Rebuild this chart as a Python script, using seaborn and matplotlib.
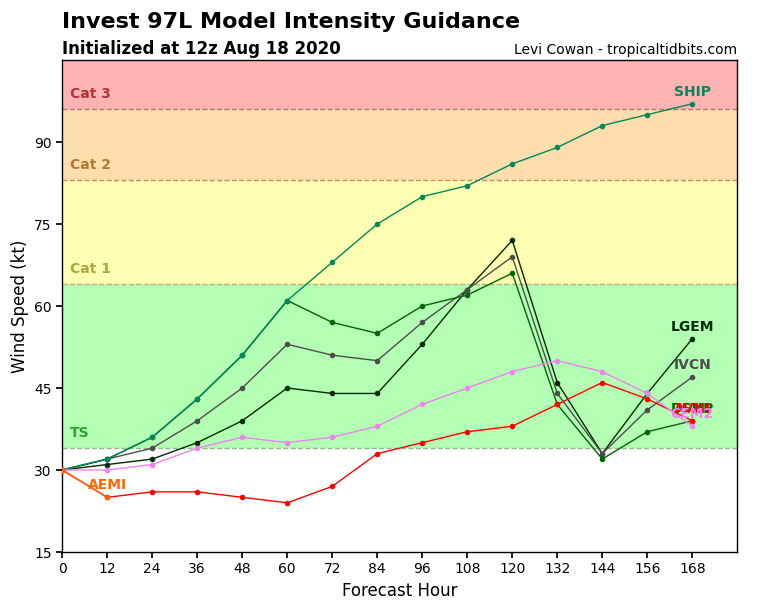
import matplotlib
matplotlib.use("Agg")
import matplotlib.pyplot as plt
import pandas as pd
import seaborn as sns

# ---------------------------------------------------------------------------
# Data
# ---------------------------------------------------------------------------
HOURS = [0, 12, 24, 36, 48, 60, 72, 84, 96, 108, 120, 132, 144, 156, 168]

LGEM = [30, 31, 32, 35, 39, 45, 44, 44, 53, 63, 72, 46, 33, 44, 54]
IVCN = [30, 32, 34, 39, 45, 53, 51, 50, 57, 63, 69, 44, 33, 41, 47]
DSHP = [30, 32, 36, 43, 51, 61, 57, 55, 60, 62, 66, 42, 32, 37, 39]
SHIP = [30, 32, 36, 43, 51, 61, 68, 75, 80, 82, 86, 89, 93, 95, 97]
AVNI = [30, 25, 26, 26, 25, 24, 27, 33, 35, 37, 38, 42, 46, 43, 39]
CEM2 = [30, 30, 31, 34, 36, 35, 36, 38, 42, 45, 48, 50, 48, 44, 38]
AEMI = [30, 25]

MODELS = {
    "LGEM": LGEM,
    "IVCN": IVCN,
    "DSHP": DSHP,
    "SHIP": SHIP,
    "AVNI": AVNI,
    "CEM2": CEM2,
    "AEMI": AEMI,
}

PALETTE = {
    "LGEM": "#002a00",
    "IVCN": "#4d4d4d",
    "DSHP": "#006400",
    "SHIP": "#00875a",
    "AVNI": "#ff0000",
    "CEM2": "#ee82ee",
    "AEMI": "#ff6600",
}

# intensity categories
BAND_NAMES = ["TS", "Cat 1", "Cat 2", "Cat 3"]
BAND_LOW = [34, 64, 83, 96]
BAND_HIGH = [64, 83, 96, 120]
BAND_FILL = ["#b3ffb3", "#ffffb3", "#ffdead", "#ffb3b3"]
BAND_TEXT = ["#33a033", "#a8a840", "#b07835", "#b03535"]
BAND_LINE = ["#80c080", "#c0b070", "#c09060", "#c07070"]


def build_frame() -> pd.DataFrame:
    rows = []
    for name, vals in MODELS.items():
        for h, v in zip(HOURS, vals):
            rows.append({"Model": name, "Hour": h, "Wind": v})
    return pd.DataFrame(rows)


def main() -> None:
    sns.set_theme(style="ticks")
    plt.rcParams.update({
        "font.family": ["DejaVu Sans"],
        "axes.edgecolor": "black",
        "axes.linewidth": 1.0,
        "xtick.color": "black",
        "ytick.color": "black",
        "text.color": "black",
        "axes.labelcolor": "black",
        "axes.titlecolor": "black",
    })

    df = build_frame()

    fig = plt.figure(figsize=(7.68, 6.0), dpi=100)
    ax = fig.add_axes([0.081, 0.08, 0.879, 0.82])

    for name, lo, hi, fill, tcol, lcol in zip(
        BAND_NAMES, BAND_LOW, BAND_HIGH, BAND_FILL, BAND_TEXT, BAND_LINE
    ):
        ax.axhspan(lo, hi, color=fill, zorder=0, lw=0)
        ax.axhline(lo, color=lcol, ls="--", lw=1.0, zorder=1)
        ax.text(2, lo + 2.8, name, color=tcol, fontsize=10, fontweight="bold",
                ha="left", va="center", zorder=2)

    sns.lineplot(
        data=df, x="Hour", y="Wind",
        hue="Model", hue_order=list(MODELS.keys()),
        palette=PALETTE,
        marker="o", markersize=4, markeredgewidth=0,
        linewidth=1.0, legend=False, estimator=None, sort=False,
        ax=ax, zorder=3,
    )

    # model names just above each track's last point
    for name, vals in MODELS.items():
        ax.text(HOURS[len(vals) - 1], vals[-1] + 2.2, name,
                color=PALETTE[name], fontsize=10, fontweight="bold",
                ha="center", va="center", zorder=4)

    ax.set_xlim(0, 180)
    ax.set_ylim(15, 105)
    ax.set_xticks(HOURS)
    ax.set_yticks([15, 30, 45, 60, 75, 90])
    ax.tick_params(labelsize=10, length=4)
    ax.set_xlabel("Forecast Hour", fontsize=12)
    ax.set_ylabel("Wind Speed (kt)", fontsize=12)

    ax.set_title("Initialized at 12z Aug 18 2020", loc="left",
                 fontsize=12, fontweight="bold", pad=4)
    ax.set_title("Levi Cowan - tropicaltidbits.com", loc="right",
                 fontsize=10, pad=4)
    fig.text(0.081, 0.963, "Invest 97L Model Intensity Guidance",
             fontsize=16, fontweight="bold", ha="left", va="center")

    fig.savefig("out.png", dpi=100)
    plt.close(fig)


if __name__ == "__main__":
    main()
